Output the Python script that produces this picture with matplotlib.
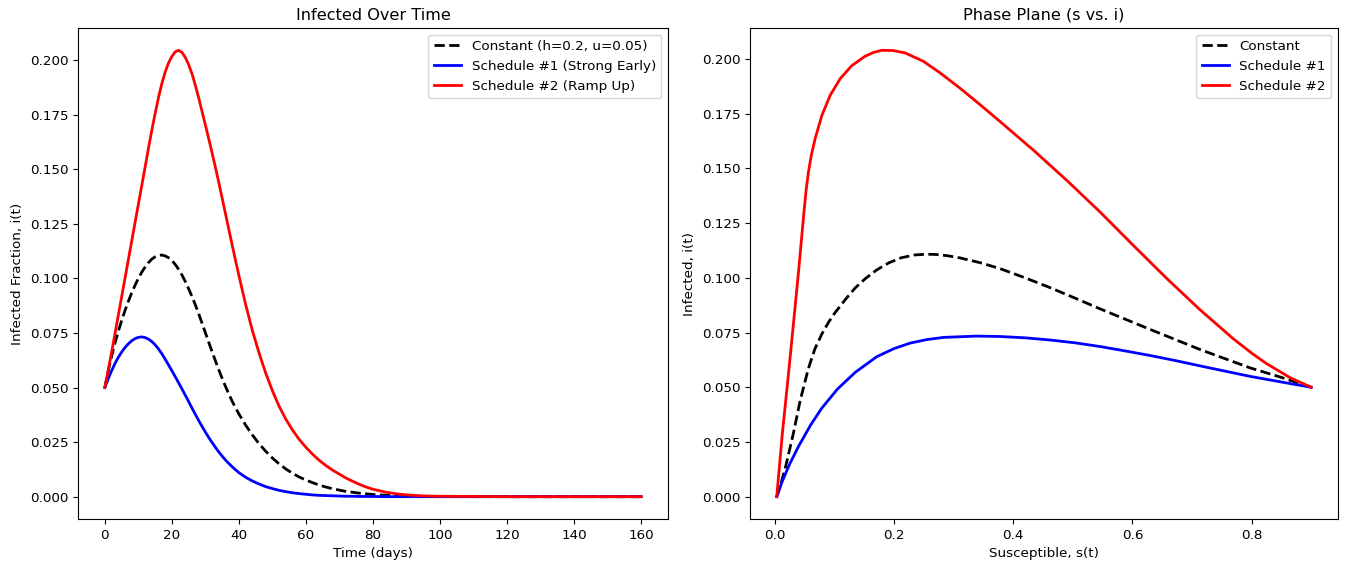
import matplotlib
matplotlib.use("Agg")
import matplotlib.pyplot as plt
from matplotlib.ticker import MultipleLocator

plt.rcParams["font.size"] = 9.7

# ---- Left panel: infected fraction over time ----
t_days = [0, 1, 2, 3, 4, 5, 6, 7, 8, 9, 10, 11, 12, 13, 14, 15, 16, 17, 18, 19, 20,
          21, 22, 23, 24, 25, 26, 27, 28, 29, 30, 31, 32, 33, 34, 35, 36, 37, 38, 39, 40,
          42, 44, 46, 48, 50, 52, 54, 56, 58, 60, 62, 64, 66, 68, 70, 72, 74, 76, 78, 80,
          84, 88, 92, 96, 100, 110, 120, 130, 140, 150, 160]

i_constant = [0.0500, 0.0575, 0.0642, 0.0702, 0.0756, 0.0806, 0.0852, 0.0894, 0.0933, 0.0968,
              0.1000, 0.1028, 0.1052, 0.1072, 0.1088, 0.1099, 0.1106, 0.1107, 0.1103, 0.1095,
              0.1082, 0.1064, 0.1042, 0.1016, 0.0986, 0.0953, 0.0917, 0.0879, 0.0838, 0.0795,
              0.0751, 0.0707, 0.0664, 0.0622, 0.0581, 0.0542, 0.0505, 0.0470, 0.0437, 0.0407,
              0.0379,
              0.0328, 0.0283, 0.0243, 0.0208, 0.0177, 0.0150, 0.0127, 0.0107, 0.0090, 0.0076,
              0.0064, 0.0053, 0.0044, 0.0036, 0.0030, 0.0024, 0.0020, 0.0016, 0.0013, 0.0010,
              0.0006, 0.0004, 0.0002, 0.0001, 0.0001, 0.0000, 0.0000, 0.0000, 0.0000, 0.0000,
              0.0000]

i_sched1 = [0.0500, 0.0540, 0.0576, 0.0609, 0.0638, 0.0662, 0.0683, 0.0700, 0.0714, 0.0724,
            0.0730, 0.0732, 0.0729, 0.0722, 0.0711, 0.0696, 0.0677, 0.0655, 0.0630, 0.0604,
            0.0577, 0.0550, 0.0522, 0.0494, 0.0465, 0.0436, 0.0406, 0.0377, 0.0349, 0.0322,
            0.0296, 0.0271, 0.0248, 0.0226, 0.0205, 0.0186, 0.0168, 0.0152, 0.0137, 0.0123,
            0.0110,
            0.0089, 0.0072, 0.0058, 0.0046, 0.0037, 0.0029, 0.0023, 0.0018, 0.0014, 0.0011,
            0.0008, 0.0006, 0.0005, 0.0004, 0.0003, 0.0002, 0.0002, 0.0001, 0.0001, 0.0001,
            0.0000, 0.0000, 0.0000, 0.0000, 0.0000, 0.0000, 0.0000, 0.0000, 0.0000, 0.0000,
            0.0000]

i_sched2 = [0.0500, 0.0578, 0.0660, 0.0744, 0.0829, 0.0914, 0.0999, 0.1084, 0.1169, 0.1254,
            0.1339, 0.1424, 0.1508, 0.1595, 0.1677, 0.1755, 0.1828, 0.1892, 0.1945, 0.1987,
            0.2017, 0.2038, 0.2045, 0.2036, 0.2013, 0.1980, 0.1938, 0.1885, 0.1827, 0.1765,
            0.1703, 0.1640, 0.1575, 0.1508, 0.1439, 0.1368, 0.1296, 0.1224, 0.1152, 0.1082,
            0.1013,
            0.0881, 0.0762, 0.0659, 0.0566, 0.0485, 0.0414, 0.0355, 0.0305, 0.0262, 0.0226,
            0.0194, 0.0166, 0.0142, 0.0121, 0.0103, 0.0085, 0.0070, 0.0056, 0.0044, 0.0034,
            0.0020, 0.0011, 0.0006, 0.0003, 0.0002, 0.0001, 0.0000, 0.0000, 0.0000, 0.0000,
            0.0000]

# ---- Right panel: phase plane (s, i) ----
s_constant = [0.003, 0.010, 0.018, 0.031, 0.042, 0.056, 0.067, 0.079, 0.090, 0.100, 0.1178,
              0.135, 0.151, 0.170, 0.1905, 0.212, 0.235, 0.255, 0.270, 0.290, 0.311, 0.345,
              0.378, 0.420, 0.462, 0.504, 0.546, 0.588, 0.630, 0.672, 0.713, 0.755, 0.797,
              0.850, 0.900]
ip_constant = [0.0000, 0.0060, 0.0138, 0.0290, 0.0435, 0.0585, 0.0675, 0.0745, 0.0797, 0.0838,
               0.0900, 0.0955, 0.0995, 0.1035, 0.1068, 0.1092, 0.1105, 0.1108, 0.1107, 0.1101,
               0.1091, 0.1069, 0.1042, 0.1000, 0.0955, 0.0907, 0.0858, 0.0811, 0.0764, 0.0718,
               0.0673, 0.0631, 0.0589, 0.0545, 0.0500]

s_sched1 = [0.003, 0.012, 0.024, 0.0394, 0.060, 0.0787, 0.105, 0.1346, 0.171, 0.200, 0.227,
            0.255, 0.283, 0.339, 0.378, 0.420, 0.462, 0.504, 0.546, 0.588, 0.630, 0.672,
            0.713, 0.755, 0.797, 0.850, 0.900]
ip_sched1 = [0.0000, 0.0068, 0.0145, 0.0229, 0.0328, 0.0405, 0.0492, 0.0568, 0.0640, 0.0677,
             0.0702, 0.0718, 0.0728, 0.0734, 0.0732, 0.0726, 0.0716, 0.0703, 0.0686, 0.0666,
             0.0645, 0.0622, 0.0598, 0.0574, 0.0550, 0.0524, 0.0500]

s_sched2 = [0.003, 0.0125, 0.024, 0.035, 0.040, 0.044, 0.049, 0.0525, 0.0562, 0.061, 0.0674,
            0.0787, 0.0926, 0.1094, 0.129, 0.1513, 0.165, 0.1794, 0.198, 0.2185, 0.249, 0.277,
            0.311, 0.345, 0.378, 0.434, 0.490, 0.546, 0.6015, 0.658, 0.713, 0.769, 0.800,
            0.825, 0.865, 0.900]
ip_sched2 = [0.0000, 0.0290, 0.0596, 0.0900, 0.1040, 0.1160, 0.1310, 0.1405, 0.1483, 0.1560,
             0.1636, 0.1742, 0.1834, 0.1910, 0.1970, 0.2013, 0.2030, 0.2040, 0.2039, 0.2028,
             0.1990, 0.1937, 0.1866, 0.1790, 0.1714, 0.1583, 0.1445, 0.1300, 0.1148, 0.0996,
             0.0855, 0.0722, 0.0656, 0.0608, 0.0543, 0.0500]

labels_left = ["Constant (h=0.2, u=0.05)", "Schedule #1 (Strong Early)", "Schedule #2 (Ramp Up)"]
labels_right = ["Constant", "Schedule #1", "Schedule #2"]

W, H = 1346, 563
fig = plt.figure(figsize=(W / 100, H / 100), dpi=100)
ax1 = fig.add_axes([78 / W, 44 / H, 590 / W, 491 / H])
ax2 = fig.add_axes([750 / W, 44 / H, 588 / W, 491 / H])

lw = 2
ax1.plot(t_days, i_constant, color="black", linestyle="--", linewidth=lw, label=labels_left[0])
ax1.plot(t_days, i_sched1, color="blue", linewidth=lw, label=labels_left[1])
ax1.plot(t_days, i_sched2, color="red", linewidth=lw, label=labels_left[2])
ax1.set_title("Infected Over Time")
ax1.set_xlabel("Time (days)")
ax1.set_ylabel("Infected Fraction, i(t)")
ax1.yaxis.set_major_locator(MultipleLocator(0.025))
ax1.legend(loc="upper right")

ax2.plot(s_constant, ip_constant, color="black", linestyle="--", linewidth=lw, label=labels_right[0])
ax2.plot(s_sched1, ip_sched1, color="blue", linewidth=lw, label=labels_right[1])
ax2.plot(s_sched2, ip_sched2, color="red", linewidth=lw, label=labels_right[2])
ax2.set_title("Phase Plane (s vs. i)")
ax2.set_xlabel("Susceptible, s(t)")
ax2.set_ylabel("Infected, i(t)")
ax2.yaxis.set_major_locator(MultipleLocator(0.025))
ax2.legend(loc="upper right")

fig.savefig("out.png", dpi=100)
